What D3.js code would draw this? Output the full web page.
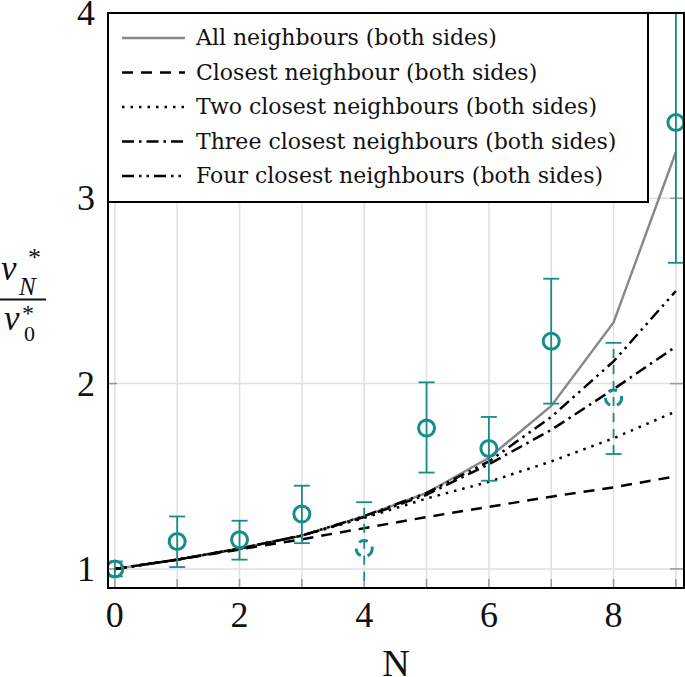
<!DOCTYPE html>
<html><head><meta charset="utf-8">
<script src="https://cdn.jsdelivr.net/npm/d3@7"></script>
<style>body{margin:0;background:#fff}svg{display:block}</style>
</head><body>
<svg id="c" width="685" height="677"></svg>
<script>
const N = [0,1,2,3,4,5,6,7,8,9];
const allNb    = [1, 1.05, 1.11, 1.18, 1.285, 1.41, 1.60, 1.88, 2.33, 3.25];
const closest1 = [1, 1.05, 1.105, 1.16, 1.22, 1.28, 1.335, 1.39, 1.44, 1.50];
const closest2 = [1, 1.05, 1.11, 1.18, 1.275, 1.38, 1.47, 1.58, 1.705, 1.85];
const closest3 = [1, 1.05, 1.11, 1.18, 1.28, 1.40, 1.565, 1.75, 1.97, 2.20];
const closest4 = [1, 1.05, 1.11, 1.18, 1.285, 1.41, 1.58, 1.82, 2.12, 2.50];
const measMean = [1.0, 1.148, 1.157, 1.296, 1.11, 1.76, 1.65, 2.229, 1.923, 3.409];
const measLow  = [0.96, 1.01, 1.05, 1.139, 0.85, 1.52, 1.476, 1.892, 1.62, 2.652];
const measHigh = [1.04, 1.283, 1.26, 1.449, 1.36, 2.007, 1.82, 2.566, 2.22, 4.17];
const measDashed = [false,false,false,false,true,false,false,false,true,false];
const xTicks = [0,2,4,6,8];
const yTicks = [1,2,3,4];
const legendLabels = ["All neighbours (both sides)","Closest neighbour (both sides)","Two closest neighbours (both sides)","Three closest neighbours (both sides)","Four closest neighbours (both sides)"];

const svg = d3.select("#c");
const L=108, R=684, T=13, B=588;
const x = d3.scaleLinear().domain([-0.11, 9.13]).range([L, R]);
const y = d3.scaleLinear().domain([0.897, 4.0]).range([B, T]);
const teal = "#178c8c";

svg.append("defs").append("clipPath").attr("id","clip")
  .append("rect").attr("x",L).attr("y",T).attr("width",R-L).attr("height",B-T);

// grid
const g = svg.append("g");
g.selectAll(".vg").data(d3.range(0,10)).enter().append("line")
  .attr("x1",d=>x(d)).attr("x2",d=>x(d)).attr("y1",T).attr("y2",B)
  .attr("stroke","#e0e0e0").attr("stroke-width",1.5);
g.selectAll(".hg").data(yTicks).enter().append("line")
  .attr("x1",L).attr("x2",R).attr("y1",d=>y(d)).attr("y2",d=>y(d))
  .attr("stroke","#e0e0e0").attr("stroke-width",1.5);
// tick marks (inside)
g.selectAll(".bt").data(d3.range(0,10)).enter().append("line")
  .attr("x1",d=>x(d)).attr("x2",d=>x(d)).attr("y1",B).attr("y2",B-9)
  .attr("stroke","#999").attr("stroke-width",1.5);
g.selectAll(".lt").data(yTicks).enter().append("line")
  .attr("x1",L).attr("x2",L+9).attr("y1",d=>y(d)).attr("y2",d=>y(d))
  .attr("stroke","#999").attr("stroke-width",1.5);
g.selectAll(".rt").data(yTicks).enter().append("line")
  .attr("x1",R).attr("x2",R-14).attr("y1",d=>y(d)).attr("y2",d=>y(d))
  .attr("stroke","#999").attr("stroke-width",1.5);

const plot = svg.append("g").attr("clip-path","url(#clip)");
const line = d3.line().x((d,i)=>x(N[i])).y(d=>y(d));
const series = [
  {v: allNb, color:"#888", w:2.4, dash:null},
  {v: closest1, color:"#000", w:2.5, dash:"11,8"},
  {v: closest2, color:"#000", w:2.5, dash:"2.5,6"},
  {v: closest3, color:"#000", w:2.5, dash:"12,5,2.5,5"},
  {v: closest4, color:"#000", w:2.5, dash:"12,5,2.5,5,2.5,5"}
];
series.forEach(s=>{
  plot.append("path").attr("d",line(s.v)).attr("fill","none")
    .attr("stroke",s.color).attr("stroke-width",s.w)
    .attr("stroke-dasharray",s.dash);
});

// measurements
N.forEach((n,i)=>{
  const cx = x(n), dash = measDashed[i] ? "9,7" : null;
  const gg = plot.append("g").attr("stroke",teal).attr("fill","none");
  gg.append("line").attr("x1",cx).attr("x2",cx).attr("y1",y(measLow[i])).attr("y2",y(measHigh[i]))
    .attr("stroke-width",1.8).attr("stroke-dasharray",dash);
  [measLow[i],measHigh[i]].forEach(v=>{
    gg.append("line").attr("x1",cx-8).attr("x2",cx+8).attr("y1",y(v)).attr("y2",y(v)).attr("stroke-width",1.8);
  });
  gg.append("circle").attr("cx",cx).attr("cy",y(measMean[i])).attr("r",8)
    .attr("stroke-width",3).attr("stroke-dasharray",dash);
});

// frame
svg.append("rect").attr("x",L).attr("y",T).attr("width",R-L).attr("height",B-T)
  .attr("fill","none").attr("stroke","#000").attr("stroke-width",2);

// legend
const lg = svg.append("g");
lg.append("rect").attr("x",L).attr("y",T).attr("width",648-L).attr("height",202-T)
  .attr("fill","#fff").attr("stroke","#000").attr("stroke-width",2);
legendLabels.forEach((t,i)=>{
  const cy = 38 + i*34.5;
  lg.append("line").attr("x1",122).attr("x2",185).attr("y1",cy).attr("y2",cy)
    .attr("stroke",series[i].color).attr("stroke-width",series[i].w)
    .attr("stroke-dasharray",series[i].dash);
  lg.append("text").attr("x",196).attr("y",cy+7).text(t)
    .attr("font-family","DejaVu Serif").attr("font-size",22).attr("fill","#111");
});

// tick labels
svg.selectAll(".xl").data(xTicks).enter().append("text")
  .attr("x",d=>x(d)).attr("y",627).attr("text-anchor","middle").text(d=>d)
  .attr("font-family","Liberation Serif").attr("font-size",36).attr("fill","#111");
svg.selectAll(".yl").data(yTicks).enter().append("text")
  .attr("x",95).attr("y",d=>y(d)+12).attr("text-anchor","end").text(d=>d)
  .attr("font-family","Liberation Serif").attr("font-size",36).attr("fill","#111");
svg.append("text").attr("x",396).attr("y",676).attr("text-anchor","middle").text("N")
  .attr("font-family","Liberation Serif").attr("font-size",38).attr("fill","#111");

// y label fraction
const yl = svg.append("g").attr("font-family","Liberation Serif").attr("fill","#111");
yl.append("text").attr("x",1).attr("y",280).attr("font-size",35).attr("font-style","italic").text("v");
yl.append("text").attr("x",28).attr("y",266).attr("font-size",26).text("*");
yl.append("text").attr("x",19).attr("y",295).attr("font-size",25).attr("font-style","italic").text("N");
yl.append("line").attr("x1",0).attr("x2",46).attr("y1",299.5).attr("y2",299.5).attr("stroke","#111").attr("stroke-width",2);
yl.append("text").attr("x",4).attr("y",330).attr("font-size",35).attr("font-style","italic").text("v");
yl.append("text").attr("x",22).attr("y",321).attr("font-size",24).text("*");
yl.append("text").attr("x",24).attr("y",341).attr("font-size",22).text("0");
</script>
</body></html>
